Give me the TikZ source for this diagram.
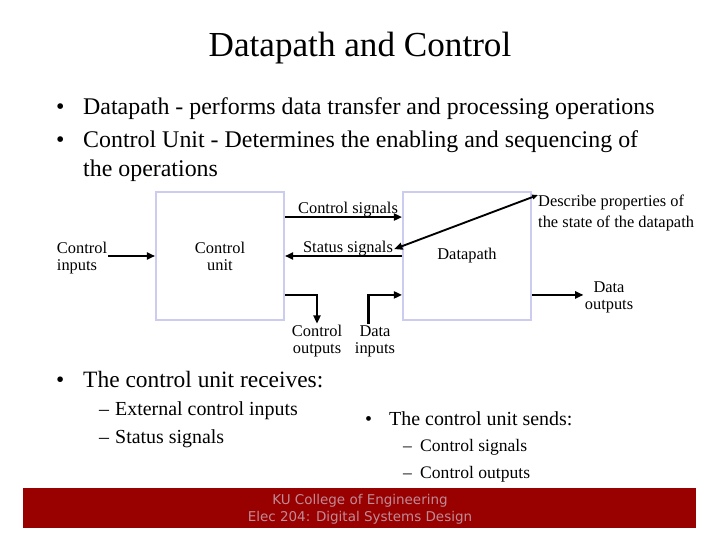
\documentclass[tikz,border=0pt]{standalone}
\usepackage{fontspec}
\setmainfont{Liberation Serif}
\newfontfamily\footfont{DejaVu Sans}
\usetikzlibrary{arrows.meta,positioning}
\definecolor{boxlav}{RGB}{204,204,240}
\definecolor{footred}{RGB}{153,0,0}
\definecolor{foottxt}{RGB}{190,140,150}
\tikzset{
  blk/.style={draw=boxlav, line width=1.6pt, minimum width=3.84cm, minimum height=3.84cm, align=center, font=\fontsize{14}{14.5}\selectfont},
  lbl/.style={inner sep=1pt, align=center, font=\fontsize{14}{14.5}\selectfont},
  sig/.style={line width=2pt, -{Triangle[length=7pt,width=6pt]}},
  pt/.style={anchor=base west, inner sep=0pt},
}
\begin{document}
\begin{tikzpicture}[x=0.03cm, y=-0.03cm]
	\useasboundingbox (0,0) rectangle (720,540);
	\node [anchor=base, font=\fontsize{30}{32}\selectfont] (title) at (360,57) {Datapath and Control};
	% top bullets
	\node [pt, font=\fontsize{20.4}{22}\selectfont] (dot1) at (56,115) {•};
	\node [pt, font=\fontsize{20.4}{22}\selectfont] (dpline) at (83,115) {Datapath - performs data transfer and processing operations};
	\node [pt, font=\fontsize{20.4}{22}\selectfont] (dot2) at (56,148) {•};
	\node [pt, font=\fontsize{20.4}{22}\selectfont] (culine) at (83,148) {Control Unit - Determines the enabling and sequencing of};
	\node [pt, font=\fontsize{20.4}{22}\selectfont] (culine2) at (83,177) {the operations};
	% blocks
	\node [blk] (cu) at (220,256) {Control\\unit};
	\node [blk] (dp) at (467,256) {Datapath};
	\coordinate (cutop) at ([yshift=-0.78cm]cu.north east);
	\coordinate (cubot) at ([yshift=0.78cm]cu.south east);
	\coordinate (dptop) at ([yshift=-0.78cm]dp.north west);
	\coordinate (dpbot) at ([yshift=0.78cm]dp.south west);
	\coordinate (dpout) at ([yshift=0.78cm]dp.south east);
	% labels
	\node [lbl, align=left] (cin) at (82,258) {Control\\inputs};
	\node [lbl, anchor=base] (csig) at (348,214) {Control signals};
	\node [lbl, anchor=base] (ssig) at (348,253) {Status signals};
	\node [lbl, anchor=west, inner sep=0pt, align=left] (desc) at (538,213) {Describe properties of\\[3pt]the state of the datapath};
	\node [lbl] (dout) at (609,297) {Data\\outputs};
	\node [lbl] (cout) at (317,341) {Control\\outputs};
	\node [lbl] (din) at (375,341) {Data\\inputs};
	% connectors
	\draw [sig] (cin.east |- cu.west) -- (cu.west);
	\draw [sig] (cutop) -- (dptop);
	\draw [sig] (dp.west) -- (cu.east);
	\draw [sig] (cubot) -| (cout.north);
	\draw [sig] ([xshift=-0.2cm]din.north) |- (dpbot);
	\draw [sig] (dpout) -- (dpout -| dout.west);
	\draw [line width=1.6pt, {Triangle[length=7pt,width=6pt]}-{Triangle[length=5pt,width=4pt]}] (ssig.east) -- (desc.north west);
	% bottom bullets
	\node [pt, font=\fontsize{20}{22}\selectfont] (dot3) at (56,388) {•};
	\node [pt, font=\fontsize{20}{22}\selectfont] (recv) at (83,388) {The control unit receives:};
	\node [pt, font=\fontsize{17}{19}\selectfont] (dash1) at (99,415) {–};
	\node [pt, font=\fontsize{17}{19}\selectfont] (ext) at (115,415) {External control inputs};
	\node [pt, font=\fontsize{17}{19}\selectfont] (dash2) at (99,443) {–};
	\node [pt, font=\fontsize{17}{19}\selectfont] (stat) at (115,443) {Status signals};
	\node [pt, font=\fontsize{17}{19}\selectfont] (dot4) at (365,425) {•};
	\node [pt, font=\fontsize{17}{19}\selectfont] (send) at (389,425) {The control unit sends:};
	\node [pt, font=\fontsize{15}{17}\selectfont] (dash3) at (403,452) {–};
	\node [pt, font=\fontsize{15}{17}\selectfont] (csend) at (420,452) {Control signals};
	\node [pt, font=\fontsize{15}{17}\selectfont] (dash4) at (403,478) {–};
	\node [pt, font=\fontsize{15}{17}\selectfont] (osend) at (420,478) {Control outputs};
	% footer
	\fill [footred] (23,488) rectangle (696,528);
	\node [align=center, text=foottxt, font=\footfont\fontsize{11.5}{14.5}\selectfont] (foot) at (360,509) {KU College of Engineering\\Elec 204: Digital Systems Design};
\end{tikzpicture}
\end{document}
